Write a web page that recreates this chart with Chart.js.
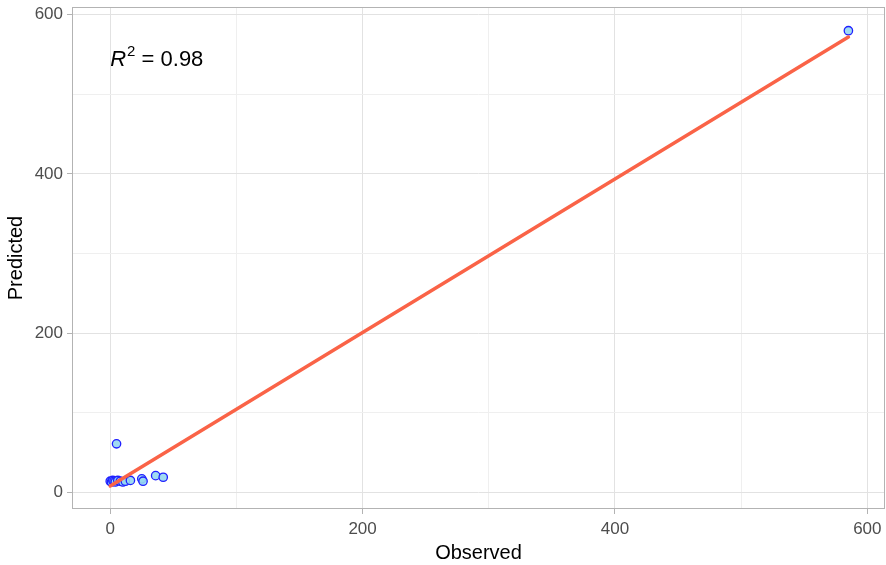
<!DOCTYPE html>
<html lang="en">
<head>
<meta charset="UTF-8">
<title>Observed vs Predicted</title>
<script src="https://cdn.jsdelivr.net/npm/chart.js@4.4.1/dist/chart.umd.min.js"></script>
<style>
  html, body { margin: 0; padding: 0; background: #fff; overflow: hidden; }
  #myChart { display: block; }
</style>
</head>
<body>
<canvas id="myChart" width="886" height="565"></canvas>
<script>
// observed / predicted pairs
const observed  = [0, 1, 2, 3, 4, 6, 8, 10, 12, 16, 25, 26, 36, 42, 5, 585];
const predicted = [14, 13, 15, 14, 13, 15, 14, 13, 14, 15, 17, 14, 21, 19, 61, 580];

// fitted line end points
const fitX = [0, 585];
const fitY = [8, 572];

const xTicks = [0, 100, 200, 300, 400, 500, 600];
const yTicks = [0, 100, 200, 300, 400, 500, 600];
const r2Label = "0.98";

const points = observed.map((v, i) => ({ x: v, y: predicted[i] }));
const fitLine = fitX.map((v, i) => ({ x: v, y: fitY[i] }));

const fam = "'Liberation Sans', Arial, sans-serif";
const tickFont = { family: fam, size: 17 };
const titleFont = { family: fam, size: 20 };

// white background, panel border and the R^2 note
const panelPlugin = {
  id: 'panel',
  beforeDraw(chart) {
    const c = chart.ctx;
    c.save();
    c.fillStyle = '#fff';
    c.fillRect(0, 0, chart.width, chart.height);
    c.restore();
  },
  afterDatasetsDraw(chart) {
    const c = chart.ctx, a = chart.chartArea;
    c.save();
    c.strokeStyle = '#b3b3b3';
    c.lineWidth = 1;
    c.strokeRect(a.left + 0.5, a.top + 0.5, a.right - a.left - 1, a.bottom - a.top - 1);

    const px = chart.scales.x.getPixelForValue(0);
    const py = chart.scales.y.getPixelForValue(536);
    c.fillStyle = '#000';
    c.textBaseline = 'alphabetic';
    c.textAlign = 'left';
    c.font = "italic 22px " + fam;
    c.fillText('R', px, py);
    let w = c.measureText('R').width;
    c.font = "15px " + fam;
    c.fillText('2', px + w + 1, py - 10);
    w += c.measureText('2').width + 1;
    c.font = "22px " + fam;
    c.fillText(' = ' + r2Label, px + w, py);
    c.restore();
  }
};

function setTicks(list) {
  return function(scale) {
    scale.ticks = list.map(v => ({ value: v }));
  };
}

const isMajor = c => c.tick && c.tick.value % 200 === 0;

const ctx = document.getElementById('myChart').getContext('2d');
new Chart(ctx, {
  type: 'scatter',
  data: {
    datasets: [{
      label: 'fit',
      type: 'line',
      data: fitLine,
      borderColor: '#fa6347',
      borderWidth: 3.5,
      borderCapStyle: 'round',
      pointRadius: 0,
      fill: false,
      order: 0
    }, {
      label: 'points',
      data: points,
      pointRadius: 4.2,
      pointBorderWidth: 1.3,
      pointBorderColor: '#1f1fff',
      pointBackgroundColor: 'rgba(150, 215, 240, 0.9)',
      order: 1
    }]
  },
  options: {
    responsive: false,
    animation: false,
    layout: { autoPadding: false, padding: { top: 7, right: 1, left: 0, bottom: 0 } },
    plugins: { legend: { display: false }, tooltip: { enabled: false } },
    scales: {
      x: {
        type: 'linear',
        min: -30.3,
        max: 614,
        afterBuildTicks: setTicks(xTicks),
        afterFit(scale) {
          scale.height = 56;
          scale.paddingLeft = 0;
          scale.paddingRight = 0;
        },
        border: { display: false },
        grid: {
          color: c => isMajor(c) ? '#e2e2e2' : '#efefef',
          lineWidth: 1,
          tickLength: 5,
          tickColor: c => isMajor(c) ? '#b3b3b3' : 'rgba(0,0,0,0)'
        },
        ticks: {
          font: tickFont,
          color: '#4d4d4d',
          padding: 5,
          maxRotation: 0,
          callback: v => (v % 200 === 0 ? v : '')
        },
        title: { display: true, text: 'Observed', color: '#000', font: titleFont, padding: { top: 0, bottom: 0 } }
      },
      y: {
        type: 'linear',
        min: -20.9,
        max: 609.8,
        afterBuildTicks: setTicks(yTicks),
        afterFit(scale) {
          scale.width = 72;
          scale.paddingTop = 0;
          scale.paddingBottom = 0;
        },
        border: { display: false },
        grid: {
          color: c => isMajor(c) ? '#e2e2e2' : '#efefef',
          lineWidth: 1,
          tickLength: 5,
          tickColor: c => isMajor(c) ? '#b3b3b3' : 'rgba(0,0,0,0)'
        },
        ticks: {
          font: tickFont,
          color: '#4d4d4d',
          padding: 4,
          callback: v => (v % 200 === 0 ? v : '')
        },
        title: { display: true, text: 'Predicted', color: '#000', font: titleFont, padding: { top: 4, bottom: 0 } }
      }
    }
  },
  plugins: [panelPlugin]
});
</script>
</body>
</html>
